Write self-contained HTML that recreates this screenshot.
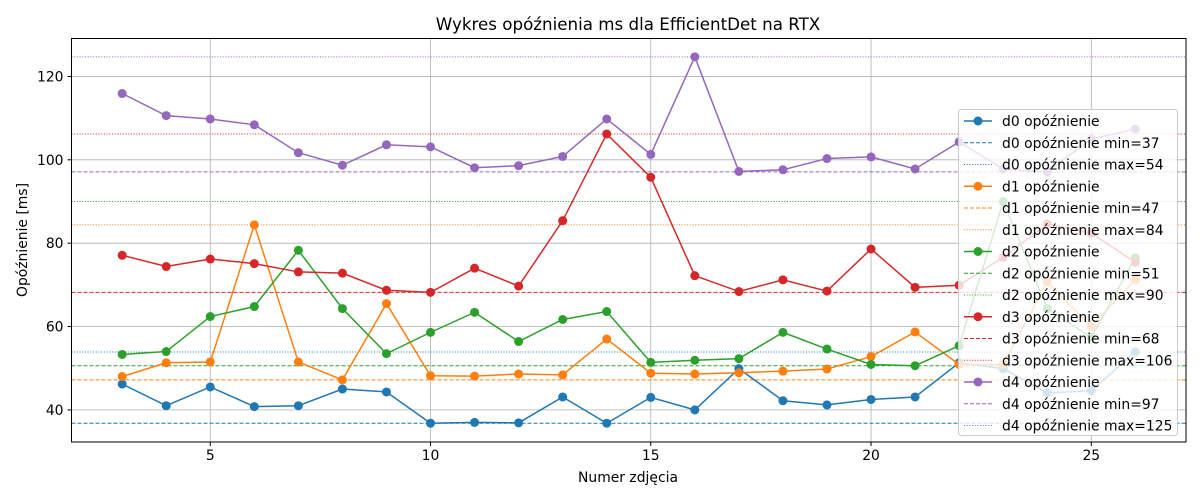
<!DOCTYPE html>
<html><head><meta charset="utf-8"><style>
body{margin:0;background:#fff;}
svg{display:block;font-family:"DejaVu Sans","Liberation Sans",sans-serif;}
</style></head><body>
<svg id="chart" width="1200" height="500" xmlns="http://www.w3.org/2000/svg"></svg>
<script>
const xValues=[3,4,5,6,7,8,9,10,11,12,13,14,15,16,17,18,19,20,21,22,23,24,25,26];
const d0=[46.2,41,45.5,40.8,41,45,44.3,36.8,37,36.9,43.1,36.8,43,40,49.9,42.2,41.2,42.5,43.1,51.3,49.9,44.1,44.6,53.9];
const d1=[48,51.3,51.5,84.4,51.5,47.2,65.5,48.2,48.1,48.6,48.4,57,48.8,48.6,48.9,49.3,49.8,52.8,58.7,50.9,50.9,70.7,60,71.2];
const d2=[53.3,54,62.4,64.8,78.3,64.3,53.5,58.6,63.4,56.4,61.7,63.6,51.4,51.9,52.3,58.6,54.6,50.9,50.6,55.4,90,64.3,57.4,76.5];
const d3=[77.1,74.4,76.2,75.1,73.1,72.8,68.7,68.2,74,69.7,85.4,106.2,95.8,72.2,68.4,71.2,68.5,78.6,69.4,69.9,76.6,84.6,82.4,75.4];
const d4=[115.9,110.6,109.8,108.4,101.7,98.7,103.6,103.1,98.1,98.6,100.8,109.8,101.3,124.7,97.2,97.6,100.3,100.7,97.8,104.3,97.8,97.1,105,107.4];
const seriesNames=["d0","d1","d2","d3","d4"];
const xTicks=[5,10,15,20,25];
const yTicks=[40,60,80,100,120];
const colors=["#1f77b4","#ff7f0e","#2ca02c","#d62728","#9467bd"];
const allSeries=[d0,d1,d2,d3,d4];

const L=71.5,R=1186,T=38.5,B=442;
const xMin=1.85,xMax=27.15,yMin=32.3,yMax=129.1;
const sx=v=>L+(v-xMin)/(xMax-xMin)*(R-L);
const sy=v=>B-(v-yMin)/(yMax-yMin)*(B-T);
const svg=document.getElementById('chart');
const NS="http://www.w3.org/2000/svg";
function mk(tag,attrs,parent){const e=document.createElementNS(NS,tag);for(const k in attrs)e.setAttribute(k,attrs[k]);(parent||svg).appendChild(e);return e;}
const FS=13.9;

xTicks.forEach(t=>{const l=mk('line',{x1:sx(t),x2:sx(t),y1:T,y2:B,stroke:'#b0b0b0','stroke-width':0.8});
});
yTicks.forEach(t=>{const l=mk('line',{x1:L,x2:R,y1:sy(t),y2:sy(t),stroke:'#b0b0b0','stroke-width':0.8});
});

allSeries.forEach((s,i)=>{
  const mn=Math.min(...s),mx=Math.max(...s);
  const a=mk('line',{x1:L,x2:R,y1:sy(mn),y2:sy(mn),stroke:colors[i],'stroke-width':1,'stroke-dasharray':'4,2'});
  
  const b=mk('line',{x1:L,x2:R,y1:sy(mx),y2:sy(mx),stroke:colors[i],'stroke-width':1,'stroke-dasharray':'1,1.7'});
  
});
allSeries.forEach((s,i)=>{
  const g=mk('g',{});
  
  const p=mk('polyline',{points:s.map((v,j)=>sx(xValues[j])+','+sy(v)).join(' '),fill:'none',stroke:colors[i],'stroke-width':1.5},g);
  
  s.forEach((v,j)=>{const c=mk('circle',{cx:sx(xValues[j]),cy:sy(v),r:4.5,fill:colors[i]},g);
    });
});
const fr=mk('rect',{x:L,y:T,width:R-L,height:B-T,fill:'none',stroke:'#000','stroke-width':1});

xTicks.forEach(t=>{mk('line',{x1:sx(t),x2:sx(t),y1:B,y2:B+4,stroke:'#000'});
  const tx=mk('text',{x:sx(t),y:B+18,'text-anchor':'middle','font-size':FS,fill:'#000'});tx.textContent=t;
  });
yTicks.forEach(t=>{mk('line',{x1:L-4,x2:L,y1:sy(t),y2:sy(t),stroke:'#000'});
  const tx=mk('text',{x:L-8,y:sy(t)+5,'text-anchor':'end','font-size':FS,fill:'#000'});tx.textContent=t;
  });
let t=mk('text',{x:628,y:30,'text-anchor':'middle','font-size':16.7,fill:'#000'});t.textContent='Wykres opóźnienia ms dla EfficientDet na RTX';

t=mk('text',{x:628,y:482,'text-anchor':'middle','font-size':FS,fill:'#000'});t.textContent='Numer zdjęcia';

t=mk('text',{x:27,y:240,'text-anchor':'middle','font-size':FS,fill:'#000',transform:'rotate(-90 27 240)'});t.textContent='Opóźnienie [ms]';

const lg=mk('g',{});
mk('rect',{x:958.5,y:109.5,width:219,height:326,rx:3,fill:'#fff','fill-opacity':0.8,stroke:'#ccc'},lg);
let row=0;
allSeries.forEach((s,i)=>{
  const mn=Math.round(Math.min(...s)),mx=Math.round(Math.max(...s));
  const items=[['solid',seriesNames[i]+' opóźnienie'],['dash',seriesNames[i]+' opóźnienie min='+mn],['dot',seriesNames[i]+' opóźnienie max='+mx]];
  items.forEach(it=>{
    const y=121+row*21.75;
    const e=mk('g',{},lg);
    const attrs={x1:964,x2:992,y1:y,y2:y,stroke:colors[i],'stroke-width':it[0]==='solid'?1.5:1};
    if(it[0]==='dash')attrs['stroke-dasharray']='4,2';
    if(it[0]==='dot')attrs['stroke-dasharray']='1,1.7';
    mk('line',attrs,e);
    if(it[0]==='solid')mk('circle',{cx:978,cy:y,r:4.5,fill:colors[i]},e);
    const tx=mk('text',{x:1002,y:y+5,'font-size':FS,fill:'#000'},e);tx.textContent=it[1];
    row++;
  });
});
</script>
</body></html>
